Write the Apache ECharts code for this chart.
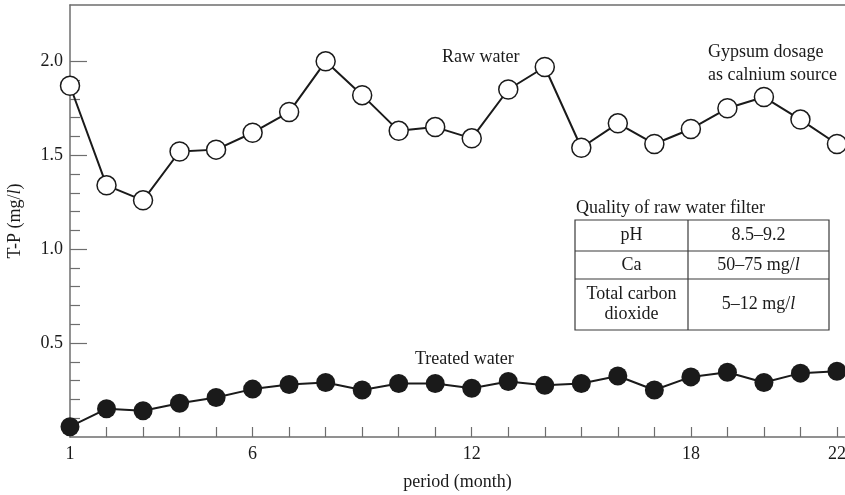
<!DOCTYPE html>
<html>
<head>
<meta charset="utf-8">
<script src="https://cdn.jsdelivr.net/npm/echarts@6/dist/echarts.min.js"></script>
<style>
  html, body { margin: 0; padding: 0; background: #fff; }
  #chart { width: 845px; height: 495px; }
</style>
</head>
<body>
<div id="chart"></div>
<script>
const months = [1, 2, 3, 4, 5, 6, 7, 8, 9, 10, 11, 12, 13, 14, 15, 16, 17, 18, 19, 20, 21, 22];
const rawWater = [1.87, 1.34, 1.26, 1.52, 1.53, 1.62, 1.73, 2.0, 1.82, 1.63, 1.65, 1.59, 1.85, 1.97, 1.54, 1.67, 1.56, 1.64, 1.75, 1.81, 1.69, 1.56];
const treatedWater = [0.055, 0.15, 0.14, 0.18, 0.21, 0.255, 0.28, 0.29, 0.25, 0.285, 0.285, 0.26, 0.295, 0.275, 0.285, 0.325, 0.25, 0.32, 0.345, 0.29, 0.34, 0.35];
const xLabels = [1, 6, 12, 18, 22];
const yLabels = [0.5, 1.0, 1.5, 2.0];
const yMinor = [0.1, 0.2, 0.3, 0.4, 0.6, 0.7, 0.8, 0.9, 1.1, 1.2, 1.3, 1.4, 1.6, 1.7, 1.8, 1.9];

const font = "Liberation Serif";
const ink = "#1a1a1a";
const axisGray = "#6e6e6e";

const chart = echarts.init(document.getElementById("chart"));

// table of filter quality (top-left 575,220; col split 688; rows 251/279; bottom 330)
const tbl = { x0: 575, x1: 829, xm: 688, y0: 220, y1: 251, y2: 279, y3: 330 };
const cellText = (x, y, text, rich) => ({
  type: "text",
  x: x,
  y: y,
  style: {
    text: text,
    font: "18px " + font,
    fill: ink,
    align: "center",
    verticalAlign: "middle",
    lineHeight: 20,
    rich: rich,
  },
});
const italicL = { i: { fontStyle: "italic", fontFamily: font, fontSize: 18, fill: ink } };

chart.setOption({
  animation: false,
  textStyle: { fontFamily: font },
  grid: { left: 70, right: 0, top: 5, bottom: 58, outerBoundsMode: "none" },
  xAxis: [
    {
      type: "value",
      min: 1,
      max: 22.22,
      name: "period (month)",
      nameLocation: "middle",
      nameGap: 36,
      nameTextStyle: { fontFamily: font, fontSize: 18, color: ink },
      axisLine: { onZero: false, lineStyle: { color: axisGray, width: 1.5 } },
      axisTick: {
        inside: true,
        length: 10,
        customValues: months.slice(1),
        lineStyle: { color: axisGray, width: 1.2 },
      },
      axisLabel: {
        customValues: xLabels,
        margin: 8,
        fontFamily: font,
        fontSize: 18,
        color: ink,
      },
      splitLine: { show: false },
    },
    {
      // top border line
      type: "value",
      position: "top",
      min: 1,
      max: 22.22,
      axisLine: { onZero: false, lineStyle: { color: axisGray, width: 1.5 } },
      axisTick: { show: false },
      axisLabel: { show: false },
      splitLine: { show: false },
    },
  ],
  yAxis: [
    {
      type: "value",
      min: 0,
      max: 2.3,
      name: "T-P (mg/{i|l})",
      nameLocation: "middle",
      nameRotate: 90,
      nameGap: 46,
      nameTextStyle: {
        fontFamily: font,
        fontSize: 18,
        color: ink,
        rich: italicL,
      },
      axisLine: { show: true, onZero: false, lineStyle: { color: axisGray, width: 1.5 } },
      axisTick: {
        inside: true,
        length: 17,
        customValues: yLabels,
        lineStyle: { color: axisGray, width: 1.2 },
      },
      axisLabel: {
        customValues: yLabels,
        formatter: (v) => v.toFixed(1),
        margin: 7,
        fontFamily: font,
        fontSize: 18,
        color: ink,
      },
      splitLine: { show: false },
    },
    {
      // minor ticks
      type: "value",
      position: "left",
      offset: 0,
      min: 0,
      max: 2.3,
      axisLine: { show: false, onZero: false },
      axisTick: {
        show: true,
        inside: true,
        length: 10,
        customValues: yMinor,
        lineStyle: { color: axisGray, width: 1.2 },
      },
      axisLabel: { show: false },
      splitLine: { show: false },
    },
  ],
  series: [
    {
      name: "Raw water",
      type: "line",
      data: months.map((m, i) => [m, rawWater[i]]),
      symbol: "circle",
      symbolSize: 19,
      itemStyle: { color: "#fff", borderColor: ink, borderWidth: 1.5 },
      lineStyle: { color: ink, width: 2 },
      z: 3,
    },
    {
      name: "Treated water",
      type: "line",
      data: months.map((m, i) => [m, treatedWater[i]]),
      symbol: "circle",
      symbolSize: 19,
      itemStyle: { color: ink },
      lineStyle: { color: ink, width: 2 },
      z: 3,
    },
  ],
  graphic: [
    { type: "text", left: 442, top: 48, style: { text: "Raw water", font: "18px " + font, fill: ink } },
    {
      type: "text", left: 708, top: 41,
      style: { text: "Gypsum dosage\nas calnium source", font: "18px " + font, fill: ink, lineHeight: 23 },
    },
    { type: "text", left: 415, top: 350, style: { text: "Treated water", font: "18px " + font, fill: ink } },
    { type: "text", left: 576, top: 199, style: { text: "Quality of raw water filter", font: "18px " + font, fill: ink } },
    {
      type: "rect",
      shape: { x: tbl.x0, y: tbl.y0, width: tbl.x1 - tbl.x0, height: tbl.y3 - tbl.y0 },
      style: { fill: "#fff", stroke: "#3a3a3a", lineWidth: 1.2 },
    },
    { type: "line", shape: { x1: tbl.xm, y1: tbl.y0, x2: tbl.xm, y2: tbl.y3 }, style: { stroke: "#3a3a3a", lineWidth: 1.2 } },
    { type: "line", shape: { x1: tbl.x0, y1: tbl.y1, x2: tbl.x1, y2: tbl.y1 }, style: { stroke: "#3a3a3a", lineWidth: 1.2 } },
    { type: "line", shape: { x1: tbl.x0, y1: tbl.y2, x2: tbl.x1, y2: tbl.y2 }, style: { stroke: "#3a3a3a", lineWidth: 1.2 } },
    cellText((tbl.x0 + tbl.xm) / 2, (tbl.y0 + tbl.y1) / 2, "pH"),
    cellText((tbl.xm + tbl.x1) / 2, (tbl.y0 + tbl.y1) / 2, "8.5–9.2"),
    cellText((tbl.x0 + tbl.xm) / 2, (tbl.y1 + tbl.y2) / 2, "Ca"),
    cellText((tbl.xm + tbl.x1) / 2, (tbl.y1 + tbl.y2) / 2, "50–75 mg/{i|l}", italicL),
    cellText((tbl.x0 + tbl.xm) / 2, (tbl.y2 + tbl.y3) / 2, "Total carbon\ndioxide"),
    cellText((tbl.xm + tbl.x1) / 2, (tbl.y2 + tbl.y3) / 2, "5–12 mg/{i|l}", italicL),
  ],
});
</script>
</body>
</html>
